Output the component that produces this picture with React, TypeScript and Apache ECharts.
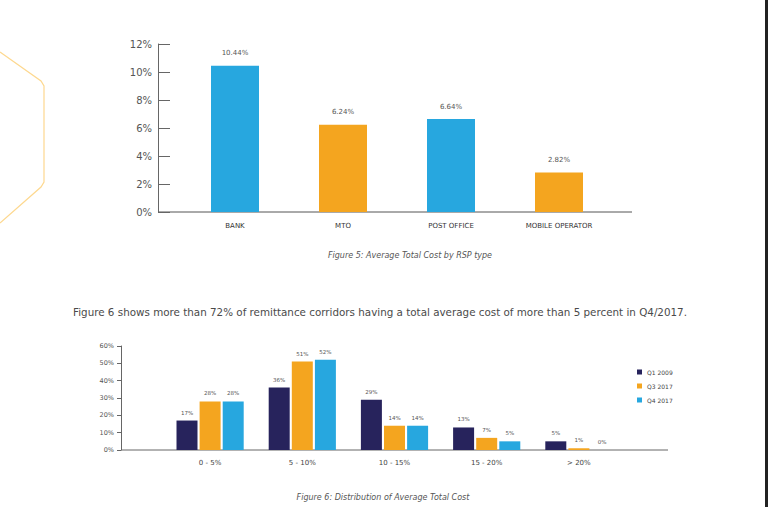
import React, { useEffect, useRef } from "react";
import * as echarts from "echarts";

const rspCategories = ["BANK", "MTO", "POST OFFICE", "MOBILE OPERATOR"];
const rspValues = [10.44, 6.24, 6.64, 2.82];
const rspColors = ["#27a7df", "#f4a51f", "#27a7df", "#f4a51f"];
const rspTicks = [0, 2, 4, 6, 8, 10, 12];

const distCategories = ["0 - 5%", "5 - 10%", "10 - 15%", "15 - 20%", "> 20%"];
const distSeriesNames = ["Q1 2009", "Q3 2017", "Q4 2017"];
const q1_2009 = [17, 36, 29, 13, 5];
const q3_2017 = [28, 51, 14, 7, 1];
const q4_2017 = [28, 52, 14, 5, 0];
const distColors = ["#27235c", "#f4a51f", "#27a7df"];

const FONT = "DejaVu Sans";

export default function App() {
  const ref = useRef<HTMLDivElement>(null);
  useEffect(() => {
    document.body.style.margin = "0";
    const chart = echarts.init(ref.current!, null, { renderer: "svg" });
    const distData = [q1_2009, q3_2017, q4_2017];
    const option: any = {
      animation: false,
      backgroundColor: "#ffffff",
      textStyle: { fontFamily: FONT },
      grid: [
        { left: 181, right: 155, top: 44, bottom: 295 },
        { left: 164, right: 143, top: 346, bottom: 57 },
      ],
      legend: {
        data: distSeriesNames,
        orient: "vertical",
        left: 632,
        top: 364,
        itemWidth: 5,
        itemHeight: 5,
        itemGap: 8,
        icon: "rect",
        textStyle: { fontSize: 6, color: "#444", fontFamily: FONT },
      },
      xAxis: [
        {
          type: "category",
          gridIndex: 0,
          data: rspCategories,
          axisLine: { show: false },
          axisTick: { show: false },
          axisLabel: { fontSize: 7, color: "#333", margin: 10, fontFamily: FONT },
        },
        {
          type: "category",
          gridIndex: 1,
          data: distCategories,
          axisLine: { show: false },
          axisTick: { show: false },
          axisLabel: { fontSize: 7, color: "#444", margin: 9, fontFamily: FONT },
        },
      ],
      yAxis: [
        {
          type: "value",
          gridIndex: 0,
          min: rspTicks[0],
          max: rspTicks[rspTicks.length - 1],
          interval: 2,
          offset: 23,
          axisLine: { show: true, lineStyle: { color: "#666", width: 1 } },
          axisTick: { show: true, inside: true, length: 12, lineStyle: { color: "#666" } },
          splitLine: { show: false },
          axisLabel: { formatter: "{value}%", fontSize: 10, color: "#555", margin: 6, fontFamily: FONT },
        },
        {
          type: "value",
          gridIndex: 1,
          min: 0,
          max: 60,
          interval: 10,
          offset: 43,
          axisLine: { show: true, lineStyle: { color: "#666", width: 1 } },
          axisTick: { show: true, inside: false, length: 4, lineStyle: { color: "#666" } },
          splitLine: { show: false },
          axisLabel: { formatter: "{value}%", fontSize: 6.5, color: "#555", margin: 7, fontFamily: FONT },
        },
      ],
      series: [
        {
          type: "bar",
          xAxisIndex: 0,
          yAxisIndex: 0,
          barWidth: 48,
          data: rspValues.map((v, i) => ({ value: v, itemStyle: { color: rspColors[i] } })),
          label: {
            show: true,
            position: "top",
            distance: 9,
            formatter: (p: any) => p.value.toFixed(2) + "%",
            fontSize: 7,
            color: "#555",
            fontFamily: FONT,
          },
        },
        ...distSeriesNames.map((name, si) => ({
          type: "bar",
          name,
          xAxisIndex: 1,
          yAxisIndex: 1,
          barWidth: 21,
          barGap: "10%",
          itemStyle: { color: distColors[si] },
          data: distData[si],
          label: {
            show: true,
            position: "top",
            distance: 5,
            formatter: "{c}%",
            fontSize: 5.5,
            color: "#555",
            fontFamily: FONT,
          },
        })),
      ],
      graphic: [
        {
          type: "polyline",
          shape: { points: [[0, 52], [41, 81], [44, 86], [44, 182], [41, 187], [0, 223]] },
          style: { stroke: "#fdd88f", lineWidth: 1.2, fill: "none" },
          silent: true,
        },
        { type: "rect", shape: { x: 765, y: 0, width: 3, height: 507 }, style: { fill: "#222" } },
        { type: "line", shape: { x1: 159, y1: 212, x2: 632, y2: 212 }, style: { stroke: "#555", lineWidth: 1 } },
        { type: "line", shape: { x1: 121, y1: 450, x2: 668, y2: 450 }, style: { stroke: "#666", lineWidth: 1 } },
        {
          type: "text",
          x: 410,
          y: 255,
          style: {
            text: "Figure 5: Average Total Cost by RSP type",
            fontSize: 8,
            fontStyle: "italic",
            fill: "#555",
            align: "center",
            verticalAlign: "middle",
            fontFamily: FONT,
          },
        },
        {
          type: "text",
          x: 73,
          y: 312,
          style: {
            text: "Figure 6 shows more than 72% of remittance corridors having a total average cost of more than 5 percent in Q4/2017.",
            fontSize: 10.35,
            fill: "#4a4a4a",
            align: "left",
            verticalAlign: "middle",
            fontFamily: FONT,
          },
        },
        {
          type: "text",
          x: 383,
          y: 497,
          style: {
            text: "Figure 6: Distribution of Average Total Cost",
            fontSize: 8,
            fontStyle: "italic",
            fill: "#555",
            align: "center",
            verticalAlign: "middle",
            fontFamily: FONT,
          },
        },
      ],
    };
    chart.setOption(option);
    return () => chart.dispose();
  }, []);
  return <div ref={ref} style={{ position: "fixed", left: 0, top: 0, width: 768, height: 507 }} />;
}
